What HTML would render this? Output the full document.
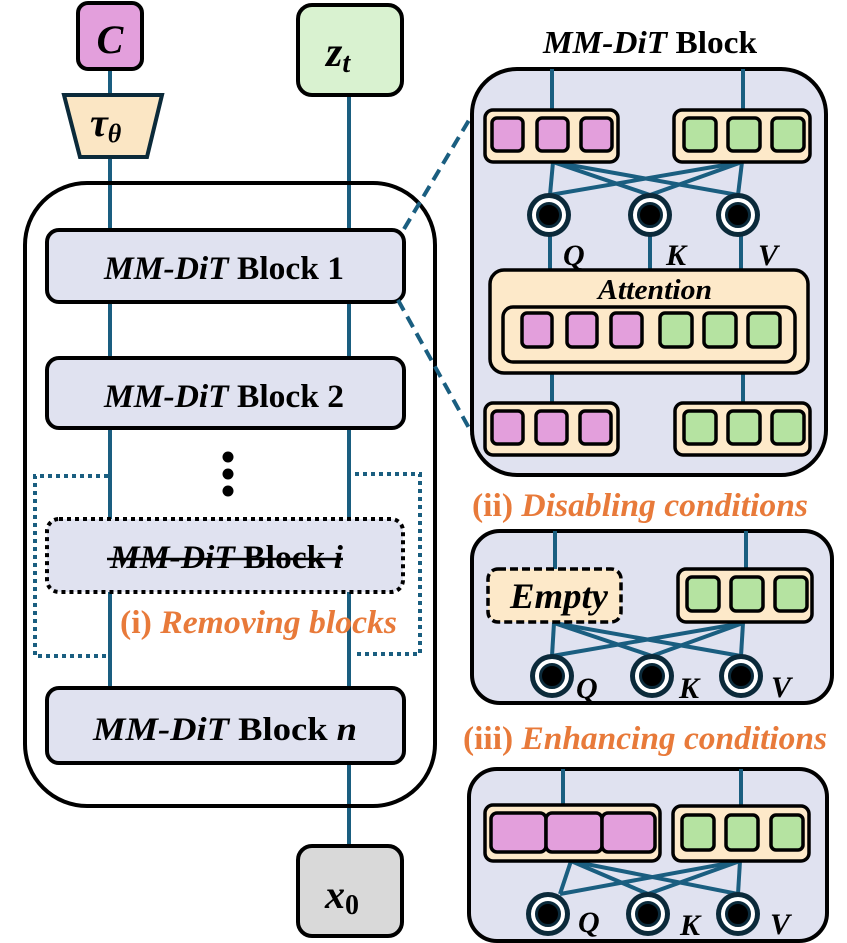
<!DOCTYPE html>
<html><head><meta charset="utf-8"><style>
html,body{margin:0;padding:0;background:#fff;}
svg{display:block;}
text{font-family:"Liberation Serif",serif;font-weight:bold;}
</style></head><body>
<svg width="847" height="943" viewBox="0 0 847 943" xmlns="http://www.w3.org/2000/svg">
<defs>
<g id="circ"><circle r="22" fill="#0b2a3a"/><circle r="17" fill="#fff"/><circle r="11.5" fill="#000" stroke="#0b2a3a" stroke-width="3"/></g>
</defs>
<g stroke="#1a5e80" stroke-width="4">
<line x1="110" y1="68" x2="110" y2="96"/>
<line x1="110" y1="157" x2="110" y2="230"/>
<line x1="349" y1="95" x2="349" y2="230"/>
<line x1="110" y1="302" x2="110" y2="358"/>
<line x1="349" y1="302" x2="349" y2="358"/>
<line x1="110" y1="428" x2="110" y2="688"/>
<line x1="349" y1="428" x2="349" y2="688"/>
<line x1="349" y1="763" x2="349" y2="846"/>
</g>
<rect x="25" y="183" width="410" height="623" rx="62" fill="none" stroke="#000" stroke-width="4"/>
<rect x="78" y="3" width="64" height="66" rx="10" fill="#e39fdc" stroke="#000" stroke-width="4"/>
<text x="110" y="53" font-size="40" font-style="italic" text-anchor="middle">C</text>
<rect x="298" y="5" width="104" height="90" rx="14" fill="#d9f2d0" stroke="#000" stroke-width="4"/>
<text x="326" y="66" font-size="42" font-style="italic">z<tspan font-size="28" dy="6">t</tspan></text>
<polygon points="64,95 162,95 147,157 80,157" fill="#fbe6c4" stroke="#0b2a3a" stroke-width="4"/>
<text x="90" y="136" font-size="40" font-style="italic">τ<tspan font-size="26" dy="6">θ</tspan></text>

<rect x="47" y="230" width="357" height="72" rx="12" fill="#e0e2f0" stroke="#000" stroke-width="4"/>
<text x="104" y="279" font-size="33" textLength="240" lengthAdjust="spacingAndGlyphs"><tspan font-style="italic">MM-DiT</tspan> Block 1</text>
<rect x="47" y="358" width="357" height="70" rx="12" fill="#e0e2f0" stroke="#000" stroke-width="4"/>
<text x="104" y="407" font-size="33" textLength="240" lengthAdjust="spacingAndGlyphs"><tspan font-style="italic">MM-DiT</tspan> Block 2</text>
<circle cx="228" cy="457" r="5.5" fill="#000"/><circle cx="228" cy="474" r="5.5" fill="#000"/><circle cx="228" cy="491" r="5.5" fill="#000"/>
<g fill="none" stroke="#1a5e80" stroke-width="4" stroke-dasharray="4,4">
<polyline points="108,476 35,476 35,656 108,656"/>
<polyline points="355,474 420,474 420,654 355,654"/>
</g>
<rect x="47" y="519" width="356" height="73" rx="12" fill="#e0e2f0" stroke="#000" stroke-width="4" stroke-dasharray="4,4"/>
<text x="110" y="568" font-size="33" textLength="233" lengthAdjust="spacingAndGlyphs"><tspan font-style="italic">MM-DiT</tspan> Block <tspan font-style="italic">i</tspan></text>
<line x1="107" y1="559" x2="343" y2="559" stroke="#000" stroke-width="2.5"/>
<text x="120" y="633" font-size="33" fill="#e87a3a" textLength="277" lengthAdjust="spacingAndGlyphs">(i) <tspan font-style="italic">Removing blocks</tspan></text>
<rect x="47" y="688" width="357" height="75" rx="12" fill="#e0e2f0" stroke="#000" stroke-width="4"/>
<text x="93" y="740" font-size="33" textLength="264" lengthAdjust="spacingAndGlyphs"><tspan font-style="italic">MM-DiT</tspan> Block <tspan font-style="italic">n</tspan></text>
<rect x="298" y="846" width="104" height="90" rx="14" fill="#d9d9d9" stroke="#000" stroke-width="4"/>
<text x="325" y="908" font-size="40" font-style="italic">x<tspan font-size="28" font-style="normal" dy="6">0</tspan></text>

<g stroke="#1a5e80" stroke-width="4" stroke-dasharray="12,7">
<line x1="404" y1="229" x2="490" y2="85"/>
<line x1="398" y1="300" x2="484" y2="455"/>
</g>

<text x="543" y="53" font-size="32" textLength="214" lengthAdjust="spacingAndGlyphs"><tspan font-style="italic">MM-DiT</tspan> Block</text>
<rect x="472" y="69" width="354" height="406" rx="45" fill="#e0e2f0" stroke="#000" stroke-width="4"/>
<g stroke="#1a5e80" stroke-width="4">
<line x1="552" y1="69" x2="552" y2="110"/><line x1="743" y1="69" x2="743" y2="110"/>
<line x1="553" y1="162" x2="550" y2="195"/><line x1="553" y1="162" x2="650" y2="195"/><line x1="553" y1="162" x2="738" y2="195"/>
<line x1="742" y1="162" x2="738" y2="195"/><line x1="742" y1="162" x2="650" y2="195"/><line x1="742" y1="162" x2="550" y2="195"/>
<line x1="550" y1="235" x2="550" y2="271"/><line x1="650" y1="235" x2="650" y2="271"/><line x1="741" y1="235" x2="741" y2="271"/>
<line x1="552" y1="372" x2="552" y2="404"/><line x1="743" y1="372" x2="743" y2="404"/>
</g>
<g stroke="#000" stroke-width="3.5">
<rect x="485" y="110" width="133" height="52" rx="8" fill="#fde9c9"/>
<rect x="674" y="110" width="136" height="52" rx="8" fill="#fde9c9"/>
<g fill="#e39fdc"><rect x="492" y="118" width="31" height="33" rx="5"/><rect x="537" y="118" width="31" height="33" rx="5"/><rect x="581" y="118" width="31" height="33" rx="5"/></g>
<g fill="#b5e3a1"><rect x="684" y="118" width="32" height="33" rx="5"/><rect x="728" y="118" width="32" height="33" rx="5"/><rect x="772" y="118" width="32" height="33" rx="5"/></g>
<rect x="490" y="270" width="318" height="103" rx="14" fill="#fde9c9"/>
<rect x="503" y="307" width="292" height="55" rx="10" fill="#fde9c9"/>
<g fill="#e39fdc"><rect x="522" y="313" width="30" height="34" rx="5"/><rect x="567" y="313" width="30" height="34" rx="5"/><rect x="611" y="313" width="31" height="34" rx="5"/></g>
<g fill="#b5e3a1"><rect x="660" y="313" width="32" height="34" rx="5"/><rect x="704" y="313" width="32" height="34" rx="5"/><rect x="748" y="313" width="32" height="34" rx="5"/></g>
<rect x="485" y="403" width="133" height="52" rx="8" fill="#fde9c9"/>
<rect x="675" y="403" width="135" height="52" rx="8" fill="#fde9c9"/>
<g fill="#e39fdc"><rect x="492" y="411" width="31" height="33" rx="5"/><rect x="536" y="411" width="31" height="33" rx="5"/><rect x="580" y="411" width="31" height="33" rx="5"/></g>
<g fill="#b5e3a1"><rect x="684" y="411" width="32" height="33" rx="5"/><rect x="728" y="411" width="32" height="33" rx="5"/><rect x="772" y="411" width="32" height="33" rx="5"/></g>
</g>
<use href="#circ" x="549" y="215"/><use href="#circ" x="650" y="215"/><use href="#circ" x="738" y="215"/>
<g font-size="30" font-style="italic">
<text x="563" y="265">Q</text><text x="666" y="265">K</text><text x="758" y="265">V</text>
</g>
<text x="598" y="299" font-size="29" font-style="italic" textLength="114" lengthAdjust="spacingAndGlyphs">Attention</text>

<text x="472" y="516" font-size="33" fill="#e87a3a" textLength="336" lengthAdjust="spacingAndGlyphs">(ii) <tspan font-style="italic">Disabling conditions</tspan></text>
<rect x="472" y="531" width="360" height="172" rx="28" fill="#e0e2f0" stroke="#000" stroke-width="4"/>
<g stroke="#1a5e80" stroke-width="4">
<line x1="555" y1="531" x2="555" y2="569"/><line x1="746" y1="531" x2="746" y2="569"/>
<line x1="554" y1="623" x2="552" y2="656"/><line x1="554" y1="623" x2="652" y2="656"/><line x1="554" y1="623" x2="741" y2="656"/>
<line x1="743" y1="623" x2="741" y2="656"/><line x1="743" y1="623" x2="652" y2="656"/><line x1="743" y1="623" x2="552" y2="656"/>
</g>
<rect x="488" y="569" width="133" height="53" rx="10" fill="#fde9c9" stroke="#000" stroke-width="3.5" stroke-dasharray="8,4"/>
<text x="510" y="608" font-size="36" font-style="italic" textLength="98" lengthAdjust="spacingAndGlyphs">Empty</text>
<g stroke="#000" stroke-width="3.5">
<rect x="678" y="569" width="134" height="53" rx="8" fill="#fde9c9"/>
<g fill="#b5e3a1"><rect x="687" y="577" width="32" height="34" rx="5"/><rect x="731" y="577" width="32" height="34" rx="5"/><rect x="775" y="577" width="32" height="34" rx="5"/></g>
</g>
<use href="#circ" x="552" y="676"/><use href="#circ" x="652" y="676"/><use href="#circ" x="741" y="676"/>
<g font-size="30" font-style="italic"><text x="576" y="698">Q</text><text x="679" y="698">K</text><text x="771" y="697">V</text></g>

<text x="463" y="749" font-size="33" fill="#e87a3a" textLength="364" lengthAdjust="spacingAndGlyphs">(iii) <tspan font-style="italic">Enhancing conditions</tspan></text>
<rect x="469" y="769" width="358" height="172" rx="28" fill="#e0e2f0" stroke="#000" stroke-width="4"/>
<g stroke="#1a5e80" stroke-width="4">
<line x1="563" y1="769" x2="563" y2="805"/><line x1="741" y1="769" x2="741" y2="806"/>
<line x1="571" y1="861" x2="560" y2="894"/><line x1="571" y1="861" x2="648" y2="894"/><line x1="571" y1="861" x2="738" y2="894"/>
<line x1="740" y1="861" x2="738" y2="894"/><line x1="740" y1="861" x2="648" y2="894"/><line x1="740" y1="861" x2="560" y2="894"/>
</g>
<g stroke="#000" stroke-width="3.5">
<rect x="485" y="805" width="175" height="56" rx="8" fill="#fde9c9"/>
<g fill="#e39fdc"><rect x="491" y="813" width="55" height="39" rx="6"/><rect x="546" y="813" width="56" height="39" rx="6"/><rect x="602" y="813" width="53" height="39" rx="6"/></g>
<rect x="673" y="806" width="136" height="55" rx="8" fill="#fde9c9"/>
<g fill="#b5e3a1"><rect x="682" y="815" width="32" height="35" rx="5"/><rect x="726" y="815" width="32" height="35" rx="5"/><rect x="771" y="815" width="32" height="35" rx="5"/></g>
</g>
<use href="#circ" x="548" y="914"/><use href="#circ" x="648" y="914"/><use href="#circ" x="738" y="914"/>
<g font-size="30" font-style="italic"><text x="578" y="932">Q</text><text x="680" y="935">K</text><text x="770" y="934">V</text></g>
</svg>
</body></html>
